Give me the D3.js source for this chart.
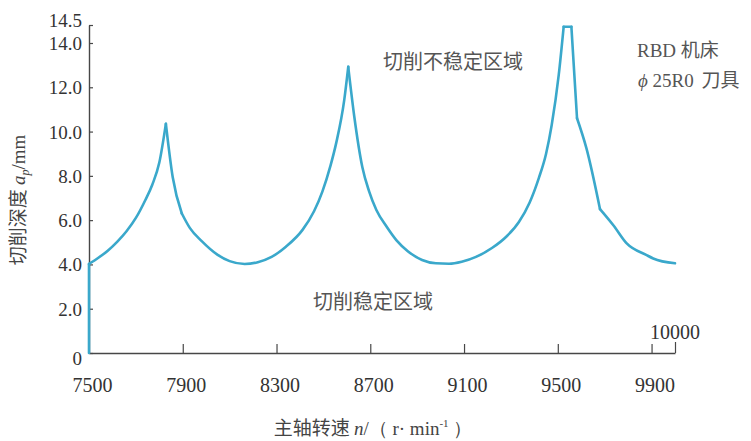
<!DOCTYPE html>
<html>
<head>
<meta charset="utf-8">
<script src="https://cdn.jsdelivr.net/npm/d3@7"></script>
<style>
  body { margin: 0; background: #fff; }
  svg { display: block; }
  .num { font-family: "Liberation Serif", "DejaVu Serif", serif; }
  .cjk { font-family: "Noto Sans CJK SC", sans-serif; }
</style>
</head>
<body>
<div id="chart"></div>
<script>
// spindle speed (r/min) and limiting cutting depth (mm)
const speed = [7500, 7500, 7540, 7580, 7620, 7660, 7700, 7740, 7770, 7800, 7828,
  7857, 7896, 7930, 7981, 8049, 8100, 8164, 8220, 8279, 8340, 8411, 8460, 8496,
  8530, 8555, 8589, 8606, 8632, 8666, 8695, 8726, 8770, 8811, 8860, 8921, 8980,
  9036, 9090, 9151, 9219, 9280, 9334, 9380, 9419, 9450, 9474, 9504, 9525, 9558,
  9582, 9622, 9680, 9737, 9794, 9879, 9907, 10000];
const depth = [0, 4.02, 4.3, 4.62, 5.02, 5.5, 6.1, 6.9, 7.6, 8.6, 10.35,
  7.95, 6.3, 5.65, 5.05, 4.43, 4.15, 4.02, 4.1, 4.34, 4.8, 5.56, 6.4, 7.3,
  8.45, 9.5, 11.43, 12.92, 10.66, 8.4, 7.3, 6.46, 5.7, 5.1, 4.6, 4.2, 4.05,
  4.03, 4.12, 4.34, 4.74, 5.25, 5.92, 6.8, 7.9, 9.0, 10.3, 12.56, 14.45, 14.45,
  10.6, 9.25, 6.5, 5.77, 4.95, 4.42, 4.27, 4.05];
// points where the curve has a sharp corner (peaks and kinks)
const cornerIdx = [1, 10, 12, 27, 48, 49, 50, 52];

const xTicks = [7500, 7900, 8300, 8700, 9100, 9500, 9900, 10000];
const yTicks = [0, 2, 4, 6, 8, 10, 12, 14, 14.5];

const width = 751, height = 441;
const axisColor = '#474747';
const lineColor = '#3aa8cb';

const svg = d3.select('#chart').append('svg')
  .attr('width', width)
  .attr('height', height)
  .style('background', '#fff');

const x = d3.scaleLinear().domain([7500, 10000]).range([89, 675]);
// the top label 14.5 sits a little above where a straight scale would put it
const y = d3.scaleLinear().domain([0, 14, 14.5]).range([353, 43, 25]);

// x axis
const xAxis = svg.append('g')
  .attr('transform', `translate(0,${y(0)})`)
  .call(d3.axisBottom(x)
    .tickValues(xTicks)
    .tickSizeInner(-9)
    .tickSizeOuter(0)
    .tickPadding(25)
    .tickFormat(d => d === 10000 ? '' : d));
xAxis.select('.domain').attr('stroke', axisColor).attr('stroke-width', 1.4);
xAxis.selectAll('.tick line').attr('stroke', axisColor).attr('stroke-width', 1.2)
  .attr('y2', d => d === 10000 ? -11 : d === 7500 ? 0 : -9);
xAxis.selectAll('.tick text')
  .attr('class', 'num')
  .attr('dx', 3)
  .style('font-size', '20px')
  .attr('fill', '#333');

svg.append('text')
  .attr('class', 'num')
  .attr('x', x(10000))
  .attr('y', y(0) - 14)
  .attr('text-anchor', 'middle')
  .style('font-size', '20px')
  .attr('fill', '#333')
  .text('10000');

// y axis
const yAxis = svg.append('g')
  .attr('transform', `translate(${x(7500)},0)`)
  .call(d3.axisLeft(y)
    .tickValues(yTicks)
    .tickSizeInner(-4)
    .tickSizeOuter(0)
    .tickPadding(7)
    .tickFormat(d => d === 0 ? '0' : d3.format('.1f')(d)));
yAxis.select('.domain').attr('stroke', axisColor).attr('stroke-width', 1.4);
yAxis.selectAll('.tick line').attr('stroke', axisColor).attr('stroke-width', 1.2);
yAxis.selectAll('.tick text')
  .attr('class', 'num')
  .style('font-size', '19px')
  .attr('fill', '#333')
  .attr('dy', d => d === 0 ? '0.62em' : d === 14.5 ? '0.1em' : '0.34em');

// stability lobe curve, smooth between corners
const pts = speed.map((s, i) => [s, depth[i]]);
const line = d3.line()
  .x(d => x(d[0]))
  .y(d => y(d[1]));
const smooth = d3.line()
  .x(d => x(d[0]))
  .y(d => y(d[1]))
  .curve(d3.curveMonotoneX);

const cuts = [0, ...cornerIdx, pts.length - 1];
const pieces = d3.pairs(cuts).map(([a, b]) => pts.slice(a, b + 1));

svg.selectAll('.lobe').data(pieces).enter().append('path')
  .attr('class', 'lobe')
  .attr('fill', 'none')
  .attr('stroke', lineColor)
  .attr('stroke-width', 2.6)
  .attr('stroke-linejoin', 'round')
  .attr('stroke-linecap', 'round')
  .attr('d', d => (d.length > 2 ? smooth : line)(d));

// axis titles
const yTitle = svg.append('text')
  .attr('transform', 'translate(25,200) rotate(-90)')
  .attr('text-anchor', 'middle')
  .attr('fill', '#444')
  .style('font-size', '19px');
yTitle.append('tspan').attr('class', 'cjk').text('切削深度 ');
yTitle.append('tspan').attr('class', 'num').style('font-style', 'italic').text('a');
yTitle.append('tspan').attr('class', 'num').style('font-style', 'italic')
  .style('font-size', '12px').attr('dy', 4).text('p');
yTitle.append('tspan').attr('class', 'num').attr('dy', -4).text('/mm');

const xTitle = svg.append('text')
  .attr('x', 373)
  .attr('y', 435)
  .attr('text-anchor', 'middle')
  .attr('fill', '#444')
  .style('font-size', '19px');
xTitle.append('tspan').attr('class', 'cjk').text('主轴转速 ');
xTitle.append('tspan').attr('class', 'num').style('font-style', 'italic').text('n');
xTitle.append('tspan').attr('class', 'num').text('/（ r· min');
xTitle.append('tspan').attr('class', 'num').style('font-size', '11px').attr('dy', -8).text('-1');
xTitle.append('tspan').attr('class', 'num').attr('dy', 8).text(' ）');

// region labels and machine note
const notes = [
  { text: '切削不稳定区域', x: 383, y: 69 },
  { text: '切削稳定区域', x: 313, y: 309 }
];
svg.selectAll('.note').data(notes).enter().append('text')
  .attr('class', 'note cjk')
  .attr('x', d => d.x)
  .attr('y', d => d.y)
  .attr('fill', '#555')
  .style('font-size', '20px')
  .text(d => d.text);

const m1 = svg.append('text').attr('x', 637).attr('y', 57).attr('fill', '#555').style('font-size', '19px');
m1.append('tspan').attr('class', 'num').text('RBD ');
m1.append('tspan').attr('class', 'cjk').text('机床');

const m2 = svg.append('text').attr('x', 638).attr('y', 87).attr('fill', '#555').style('font-size', '19px');
m2.append('tspan').attr('class', 'num').style('font-style', 'italic').text('ϕ ');
m2.append('tspan').attr('class', 'num').text('25R0 ');
m2.append('tspan').attr('class', 'cjk').attr('dx', 3).text('刀具');
</script>
</body>
</html>
